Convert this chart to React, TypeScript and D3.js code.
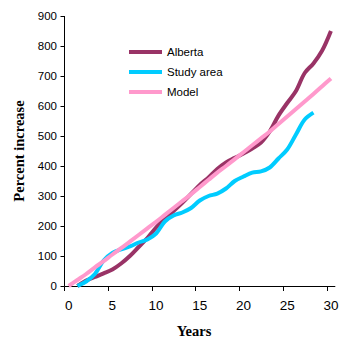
import React from "react";
import * as d3 from "d3";

const years: number[] = d3.range(0, 31);
const xTickLabels: number[] = [0, 5, 10, 15, 20, 25, 30];
const yTicks: number[] = [0, 100, 200, 300, 400, 500, 600, 700, 800, 900];

const seriesNames: string[] = ["Alberta", "Study area", "Model"];
const seriesColors: string[] = ["#993366", "#00CCFF", "#FF99CC"];

// values by year index (null = no data)
const alberta: (number | null)[] = [
  null, 0, 18, 30, 42, 55, 75, 100, 130, 160, 195, 225, 250, 277, 307, 337,
  362, 390, 412, 427, 442, 458, 478, 515, 568, 610, 650, 710, 742, 785, 850,
];
const studyArea: (number | null)[] = [
  null, 0, 15, 40, 85, 110, 122, 132, 145, 155, 175, 215, 235, 245, 260, 285,
  300, 308, 325, 350, 365, 378, 382, 395, 425, 455, 505, 555, 578, null, null,
];
const model: (number | null)[] = [
  0, 20, 40, 62, 83, 105, 126, 148, 170, 192, 214, 237, 260, 283, 306, 330,
  354, 378, 400, 423, 446, 469, 492, 515, 540, 565, 590, 615, 640, 666, 692,
];

const W = 349;
const H = 354;

export default function App() {
  const x = d3.scaleBand<number>().domain(years).range([64.3, 335.3]).padding(0);
  const bw = x.bandwidth();
  const cx = (i: number) => (x(i) as number) + bw / 2;
  const y = d3.scaleLinear().domain([0, 900]).range([286, 16]);

  const allSeries = [alberta, studyArea, model];
  const line = d3
    .line<number | null>()
    .defined((d) => d !== null)
    .x((_, i) => cx(years[i]))
    .y((d) => y(d as number))
    .curve(d3.curveCatmullRom.alpha(0.5));

  const legendY = [52, 72, 92];

  return (
    <svg
      width={W}
      height={H}
      style={{ position: "absolute", left: 0, top: 0, background: "#fff" }}
    >
      <rect x={0} y={0} width={W} height={H} fill="#fff" />
      {/* y axis */}
      <line x1={64.5} x2={64.5} y1={y(900)} y2={y(0)} stroke="#000" />
      {yTicks.map((t) => (
        <g key={t}>
          <line x1={60.5} x2={64.5} y1={Math.round(y(t)) + 0.5} y2={Math.round(y(t)) + 0.5} stroke="#000" />
          <text
            x={57}
            y={y(t)}
            textAnchor="end"
            dominantBaseline="central"
            fontFamily="'Liberation Sans', Arial, sans-serif"
            fontSize={11.5}
            fill="#000"
          >
            {t}
          </text>
        </g>
      ))}
      {/* x axis */}
      <line x1={64.3} x2={335.3} y1={286.5} y2={286.5} stroke="#000" />
      {xTickLabels.map((t) => (
        <g key={t}>
          <line
            x1={Math.round(x(t) as number) + 0.5}
            x2={Math.round(x(t) as number) + 0.5}
            y1={286.5}
            y2={291}
            stroke="#000"
          />
          <text
            x={cx(t)}
            y={310}
            textAnchor="middle"
            fontFamily="'Liberation Sans', Arial, sans-serif"
            fontSize={13.5}
            fill="#000"
          >
            {t}
          </text>
        </g>
      ))}
      {/* series */}
      {allSeries.map((s, k) => (
        <path
          key={k}
          d={line(s) || ""}
          fill="none"
          stroke={seriesColors[k]}
          strokeWidth={4}
          strokeLinejoin="round"
        />
      ))}
      {/* legend */}
      {seriesNames.map((n, k) => (
        <g key={n}>
          <line x1={129} x2={162} y1={legendY[k]} y2={legendY[k]} stroke={seriesColors[k]} strokeWidth={4} />
          <text
            x={167}
            y={legendY[k]}
            dominantBaseline="central"
            fontFamily="'Liberation Sans', Arial, sans-serif"
            fontSize={11.5}
            fill="#000"
          >
            {n}
          </text>
        </g>
      ))}
      {/* axis titles */}
      <text
        transform="translate(24,151) rotate(-90)"
        textAnchor="middle"
        fontFamily="'Liberation Serif', 'Times New Roman', serif"
        fontWeight="bold"
        fontSize={14.5}
        fill="#000"
      >
        Percent increase
      </text>
      <text
        x={194}
        y={336}
        textAnchor="middle"
        fontFamily="'Liberation Serif', 'Times New Roman', serif"
        fontWeight="bold"
        fontSize={14.5}
        fill="#000"
      >
        Years
      </text>
    </svg>
  );
}
